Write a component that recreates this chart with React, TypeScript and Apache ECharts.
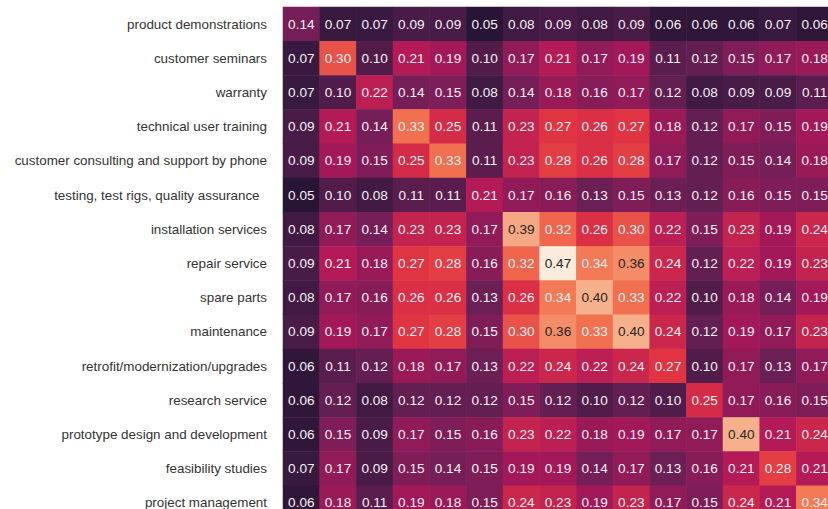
import React, { useEffect, useRef } from "react";
import * as echarts from "echarts";

const rowLabels: string[] = [
  "product demonstrations",
  "customer seminars",
  "warranty",
  "technical user training",
  "customer consulting and support by phone",
  "testing, test rigs, quality assurance\u00a0\u00a0",
  "installation services",
  "repair service",
  "spare parts",
  "maintenance",
  "retrofit/modernization/upgrades",
  "research service",
  "prototype design and development",
  "feasibility studies",
  "project management",
];

const colLabels: string[] = rowLabels.map((s) => s.trim());

const row0 = [0.14, 0.07, 0.07, 0.09, 0.09, 0.05, 0.08, 0.09, 0.08, 0.09, 0.06, 0.06, 0.06, 0.07, 0.06];
const row1 = [0.07, 0.30, 0.10, 0.21, 0.19, 0.10, 0.17, 0.21, 0.17, 0.19, 0.11, 0.12, 0.15, 0.17, 0.18];
const row2 = [0.07, 0.10, 0.22, 0.14, 0.15, 0.08, 0.14, 0.18, 0.16, 0.17, 0.12, 0.08, 0.09, 0.09, 0.11];
const row3 = [0.09, 0.21, 0.14, 0.33, 0.25, 0.11, 0.23, 0.27, 0.26, 0.27, 0.18, 0.12, 0.17, 0.15, 0.19];
const row4 = [0.09, 0.19, 0.15, 0.25, 0.33, 0.11, 0.23, 0.28, 0.26, 0.28, 0.17, 0.12, 0.15, 0.14, 0.18];
const row5 = [0.05, 0.10, 0.08, 0.11, 0.11, 0.21, 0.17, 0.16, 0.13, 0.15, 0.13, 0.12, 0.16, 0.15, 0.15];
const row6 = [0.08, 0.17, 0.14, 0.23, 0.23, 0.17, 0.39, 0.32, 0.26, 0.30, 0.22, 0.15, 0.23, 0.19, 0.24];
const row7 = [0.09, 0.21, 0.18, 0.27, 0.28, 0.16, 0.32, 0.47, 0.34, 0.36, 0.24, 0.12, 0.22, 0.19, 0.23];
const row8 = [0.08, 0.17, 0.16, 0.26, 0.26, 0.13, 0.26, 0.34, 0.40, 0.33, 0.22, 0.10, 0.18, 0.14, 0.19];
const row9 = [0.09, 0.19, 0.17, 0.27, 0.28, 0.15, 0.30, 0.36, 0.33, 0.40, 0.24, 0.12, 0.19, 0.17, 0.23];
const row10 = [0.06, 0.11, 0.12, 0.18, 0.17, 0.13, 0.22, 0.24, 0.22, 0.24, 0.27, 0.10, 0.17, 0.13, 0.17];
const row11 = [0.06, 0.12, 0.08, 0.12, 0.12, 0.12, 0.15, 0.12, 0.10, 0.12, 0.10, 0.25, 0.17, 0.16, 0.15];
const row12 = [0.06, 0.15, 0.09, 0.17, 0.15, 0.16, 0.23, 0.22, 0.18, 0.19, 0.17, 0.17, 0.40, 0.21, 0.24];
const row13 = [0.07, 0.17, 0.09, 0.15, 0.14, 0.15, 0.19, 0.19, 0.14, 0.17, 0.13, 0.16, 0.21, 0.28, 0.21];
const row14 = [0.06, 0.18, 0.11, 0.19, 0.18, 0.15, 0.24, 0.23, 0.19, 0.23, 0.17, 0.15, 0.24, 0.21, 0.34];

const matrix: number[][] = [
  row0, row1, row2, row3, row4, row5, row6, row7, row8, row9, row10, row11, row12, row13, row14,
];

const rocket = ["#03051a", "#35193e", "#701f57", "#ad1759", "#e13342", "#f37651", "#f6b48f", "#faebdd"];

export default function App() {
  const ref = useRef<HTMLDivElement>(null);

  useEffect(() => {
    if (!ref.current) return;
    const chart = echarts.init(ref.current, undefined, { renderer: "svg" });
    const data: any[] = [];
    matrix.forEach((row, r) => {
      row.forEach((v, c) => {
        data.push({
          value: [c, r, v],
          label: { color: v >= 0.355 ? "#262626" : "#f4f0f4" },
        });
      });
    });
    chart.setOption({
      animation: false,
      grid: { left: 283, top: 7, width: 550, height: 513 },
      xAxis: {
        type: "category",
        data: colLabels,
        axisLabel: { show: false },
        axisLine: { show: false },
        axisTick: { show: false },
        splitLine: { show: false },
      },
      yAxis: {
        type: "category",
        data: rowLabels,
        inverse: true,
        axisLine: { show: false },
        axisTick: { show: false },
        splitLine: { show: false },
        axisLabel: {
          margin: 16,
          color: "#333333",
          fontSize: 13.4,
          fontFamily: "Liberation Sans, Arial, sans-serif",
        },
      },
      visualMap: {
        show: false,
        type: "continuous",
        min: 0,
        max: 0.47,
        dimension: 2,
        inRange: { color: rocket },
      },
      series: [
        {
          type: "heatmap",
          data,
          label: {
            show: true,
            fontSize: 13.6,
            fontFamily: "Liberation Sans, Arial, sans-serif",
            formatter: (p: any) => p.value[2].toFixed(2),
          },
          itemStyle: { borderWidth: 0 },
          emphasis: { disabled: true },
        },
      ],
    });
    return () => chart.dispose();
  }, []);

  return (
    <div style={{ position: "fixed", left: 0, top: 0, width: 828, height: 509, overflow: "hidden", background: "#fff" }}>
      <div ref={ref} style={{ width: 840, height: 525 }} />
    </div>
  );
}
